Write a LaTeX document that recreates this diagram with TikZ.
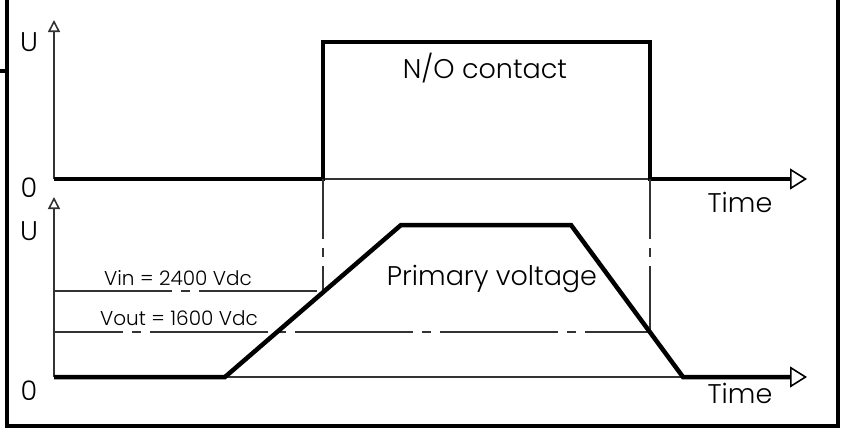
\documentclass[tikz,border=0pt]{standalone}
\usepackage{fontspec}
\setmainfont{Poppins}[UprightFont=* Light]
\usetikzlibrary{arrows.meta, positioning}

\begin{document}
\begin{tikzpicture}[x=0.5pt, y=-0.5pt, line join=miter,
	frame/.style={line width=2pt},
	axis/.style={line width=0.8pt, black!80, -{Triangle[open, length=6pt, width=6pt]}},
	signal/.style={line width=2.25pt},
	timeaxis/.style={signal, -{Triangle[open, length=8.5pt, width=10.5pt, line width=0.8pt]}},
	thinline/.style={line width=0.6pt, black!80},
	centreline/.style={thinline, dash pattern=on 59pt off 4.5pt on 4.5pt off 4.5pt},
	lbl/.style={inner sep=0pt, anchor=base, font=\fontsize{13.5}{16}\selectfont},
	smalllbl/.style={inner sep=0pt, anchor=base, font=\fontsize{10}{12}\selectfont}]
	\useasboundingbox (0,0) rectangle (842,428);
	% frame
	\draw[frame] (7,0) -- (7,426) -- (838,426) -- (838,0);
	\draw[frame] (0,71) -- (7,71);
	% key points
	\coordinate (o1) at (54,179);
	\coordinate (on) at (323,179);
	\coordinate (off) at (650,179);
	\coordinate (o2) at (54,377);
	\coordinate (rise) at (225,377);
	\coordinate (top1) at (401,225);
	\coordinate (top2) at (571,225);
	\coordinate (fall) at (683,377);
	% axes
	\draw[axis] (o1) -- (54,20);
	\draw[axis] (o2) -- (54,197);
	% N/O contact
	\draw[thinline] (on) -- (off);
	\draw[timeaxis] (o1) -- (on) -- (323,42) -- (650,42) -- (off) -- (807,179);
	% primary voltage
	\draw[thinline] (rise) -- (fall);
	\draw[centreline, dash phase=29pt] (on) -- (323,292);
	\draw[centreline, dash phase=29pt] (off) -- (650,332);
	\draw[centreline] (54,291) -- (323,291);
	\draw[centreline, dash phase=24.5pt] (54,332) -- (650,332);
	\draw[timeaxis] (o2) -- (rise) -- (top1) -- (top2) -- (fall) -- (807,377);
	% labels
	\node[lbl] (u1) at (29,52) {U};
	\node[lbl] (z1) at (29,197) {0};
	\node[lbl] (u2) at (29,240) {U};
	\node[lbl] (z2) at (29,400) {0};
	\node[lbl] (t1) at (740,212) {Time};
	\node[lbl] (t2) at (740,403) {Time};
	\node[lbl] (no) at (485,78) {N/O contact};
	\node[lbl] (pv) at (492,285) {Primary voltage};
	\node[smalllbl] (vin) at (178,285) {Vin = 2400 Vdc};
	\node[smalllbl] (vout) at (179,325) {Vout = 1600 Vdc};
\end{tikzpicture}
\end{document}
